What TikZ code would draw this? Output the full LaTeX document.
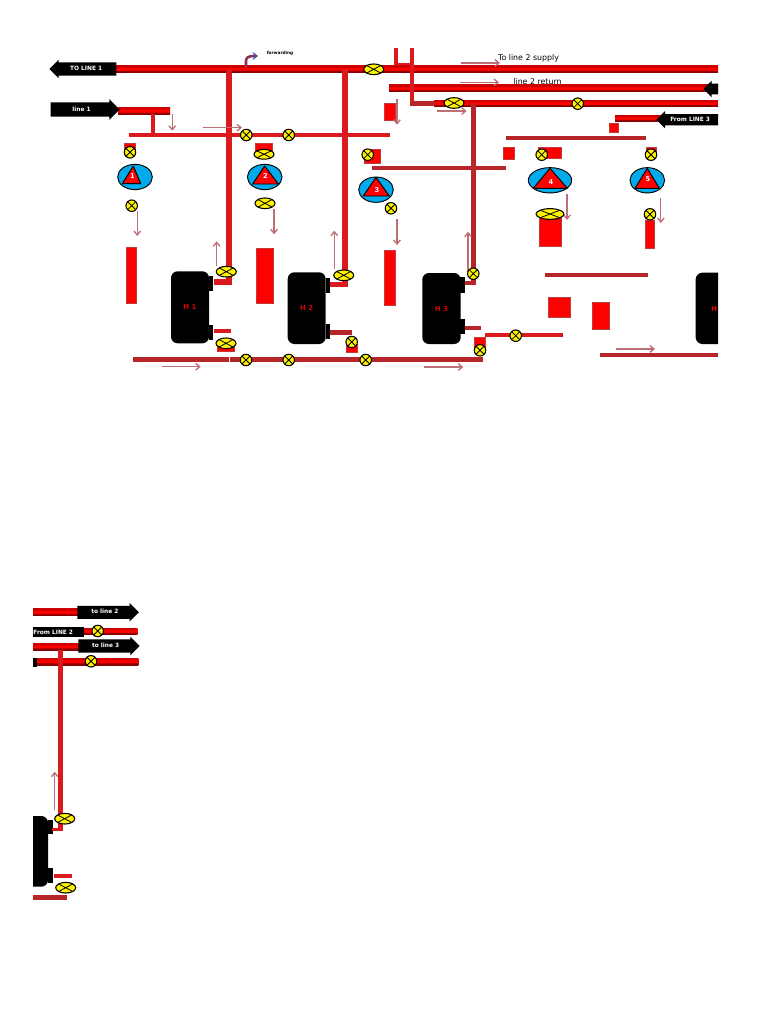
\documentclass[tikz,border=0pt]{standalone}
\usepackage{fontspec}
\setmainfont{DejaVu Sans}
\usepackage{xcolor}
\usetikzlibrary{arrows.meta, shapes.geometric, shapes.arrows}
\definecolor{pipered}{RGB}{218,26,28}
\definecolor{pipebrown}{RGB}{182,38,40}
\definecolor{flowpink}{RGB}{190,110,118}
\definecolor{pumpblue}{RGB}{0,170,235}
\definecolor{rectedge}{RGB}{190,60,60}
\pgfdeclareverticalshading{pipeshade}{100bp}{color(0bp)=(red!35!black); color(38bp)=(red!60!black); color(44bp)=(red); color(58bp)=(red); color(66bp)=(red!80!black); color(100bp)=(red!80!black)}
\tikzset{
  mainpipe/.style={shading=pipeshade,draw=none},
  thinpipe/.style={fill=pipered,draw=none},
  brownpipe/.style={fill=pipebrown,draw=none},
  redtank/.style={fill=red,draw=rectedge,line width=0.4pt},
  flowline/.style={flowpink,line width=1pt,-{Straight Barb[length=3pt,width=5pt]}},
  boiler/.style={fill=black,rounded corners=5pt},
  valve/.style={circle,draw=black,fill=yellow,line width=0.8pt,minimum size=8.6pt,inner sep=0pt,
    path picture={\draw[black,line width=0.6pt] (path picture bounding box.north west) -- (path picture bounding box.south east)
      (path picture bounding box.north east) -- (path picture bounding box.south west);}},
  widevalve/.style={valve,ellipse,minimum width=15pt,minimum height=8pt},
  pump/.style={ellipse,draw=black,fill=pumpblue,line width=0.7pt,inner sep=0pt},
  pumptri/.style={fill=red,draw=black,line width=0.7pt,line join=round},
  pumpnum/.style={text=white,font=\bfseries\fontsize{5}{6}\selectfont,inner sep=0pt},
  hxlabel/.style={text=red!85!black,font=\bfseries\fontsize{5.2}{6}\selectfont,inner sep=0pt},
  blackarrow/.style={single arrow,fill=black,text=white,font=\bfseries\fontsize{4.4}{5}\selectfont,
    text height=3.2pt,text depth=0.8pt,inner xsep=1pt,inner ysep=2.5pt,minimum width=14pt,
    single arrow head extend=2pt,anchor=tip},
  plainlabel/.style={text=black,font=\fontsize{5.9}{7}\selectfont,inner sep=0pt}
}
\begin{document}
\begin{tikzpicture}[x=0.75pt,y=-0.75pt]
\useasboundingbox (0,0) rectangle (768,1024);
\clip (33,40) rectangle (718,910);
\shade[mainpipe] (116,65.5) rectangle (718,72.5);
\shade[mainpipe] (389,85) rectangle (718,91.8);
\shade[mainpipe] (434,100) rectangle (718,106.5);
\shade[mainpipe] (118,107) rectangle (170,114.7);
\shade[mainpipe] (615,115) rectangle (662,121.7);
\fill[thinpipe] (151.3,114) rectangle (154.8,135);
\fill[thinpipe] (129.3,133.3) rectangle (390,137);
\fill[thinpipe] (225.8,69) rectangle (231.8,285);
\fill[thinpipe] (214,279) rectangle (231.8,285);
\fill[thinpipe] (342,69) rectangle (348,287.3);
\fill[thinpipe] (330,281.7) rectangle (348,287.3);
\fill[brownpipe] (471,103) rectangle (475.5,285);
\fill[brownpipe] (465,281) rectangle (475.5,285);
\fill[thinpipe] (394,48) rectangle (397.5,65.5);
\fill[thinpipe] (394,62.7) rectangle (412,65.5);
\fill[thinpipe] (410,48) rectangle (414.3,105.7);
\fill[brownpipe] (410,101) rectangle (435,105.7);
\fill[brownpipe] (505.7,136.2) rectangle (645.7,139.8);
\fill[brownpipe] (372.3,166.3) rectangle (506.3,170.3);
\fill[brownpipe] (545,272.7) rectangle (647.7,277.3);
\fill[brownpipe] (600.3,352.7) rectangle (718,356.7);
\fill[brownpipe] (133.3,357.3) rectangle (229,362.3);
\fill[brownpipe] (230,357.3) rectangle (483,362.3);
\fill[thinpipe] (214,329.3) rectangle (230.7,333);
\fill[brownpipe] (330,330.3) rectangle (352,335);
\fill[brownpipe] (465,326.3) rectangle (481.3,329.7);
\fill[thinpipe] (485.3,333.3) rectangle (563,337);
\draw[redtank] (124.3,143.3) rectangle (135,150);
\draw[redtank] (255.7,143.3) rectangle (272.3,151.7);
\draw[redtank] (364.3,149.3) rectangle (380,163.3);
\draw[redtank] (384.7,103.3) rectangle (395,120);
\draw[redtank] (503.7,147.7) rectangle (514.7,159.3);
\draw[redtank] (538,147.3) rectangle (561,158);
\draw[redtank] (646,147) rectangle (656,152);
\draw[redtank] (609,123) rectangle (618,132);
\draw[redtank] (126.3,247.3) rectangle (136.7,303.3);
\draw[redtank] (256.7,248.3) rectangle (273.3,303.3);
\draw[redtank] (384.7,250.7) rectangle (395.3,305.3);
\draw[redtank] (539.3,217) rectangle (561.7,246.7);
\draw[redtank] (645,220) rectangle (654.7,248);
\draw[redtank] (548,297.7) rectangle (570,317.7);
\draw[redtank] (592.7,302.7) rectangle (609.3,329.3);
\draw[redtank] (217.3,343) rectangle (234,351);
\draw[redtank] (346.3,344) rectangle (357,352);
\draw[redtank] (474.7,337.3) rectangle (485.3,348);
\fill[black] (209,276) rectangle (213.3,291.3);
\fill[black] (209,325) rectangle (213.3,340);
\fill[boiler] (171,271.3) rectangle (209,343.3);
\fill[black] (325.7,277.7) rectangle (330,293.3);
\fill[black] (325.7,324) rectangle (330,339);
\fill[boiler] (287.7,272.3) rectangle (325.7,344);
\fill[black] (460,276.7) rectangle (465,292.7);
\fill[black] (460,319) rectangle (465,334);
\fill[boiler] (422.3,273) rectangle (460.7,344);
\fill[boiler] (695.7,272.7) rectangle (740,344);
\fill[black] (48,820) rectangle (53.3,834);
\fill[black] (48,868) rectangle (53.3,883);
\fill[boiler] (10,816) rectangle (48,886.7);
\node[hxlabel] (hxone) at (190,306.7) {H 1};
\node[hxlabel] (hxtwo) at (306.7,307.5) {H 2};
\node[hxlabel] (hxthree) at (441.5,308.5) {H 3};
\node[hxlabel] (hxfour) at (718,308.5) {H 4};
\node[hxlabel] (hxfive) at (27,851) {H 1};
\node[pump,minimum width=26pt,minimum height=19pt] (pumpone) at (135,177) {};
\draw[pumptri] (133.3,166) -- (122.3,183.7) -- (140.7,183.7) -- cycle;
\node[pumpnum] (numone) at (132.5,176.5) {1};
\node[pump,minimum width=26pt,minimum height=19pt] (pumptwo) at (264.7,177) {};
\draw[pumptri] (264.7,166) -- (252.7,184) -- (278.3,184) -- cycle;
\node[pumpnum] (numtwo) at (265.5,176) {2};
\node[pump,minimum width=26pt,minimum height=19pt] (pumpthree) at (376,189.7) {};
\draw[pumptri] (376,177.3) -- (363.3,196) -- (389.3,196) -- cycle;
\node[pumpnum] (numthree) at (377,190) {3};
\node[pump,minimum width=32.5pt,minimum height=19pt] (pumpfour) at (550,180.3) {};
\draw[pumptri] (550,168.3) -- (533.3,188.3) -- (567.3,188.3) -- cycle;
\node[pumpnum] (numfour) at (551,182) {4};
\node[pump,minimum width=26pt,minimum height=19pt] (pumpfive) at (647.3,180.3) {};
\draw[pumptri] (647.3,168.3) -- (635,188.3) -- (659.3,188.3) -- cycle;
\node[pumpnum] (numfive) at (648,179) {5};
\node[blackarrow,minimum height=50.25pt,shape border rotate=180] (tolineone) at (49,69) {TO LINE 1};
\node[blackarrow,minimum height=51.75pt,minimum width=15.5pt,inner ysep=2.2pt] (lineone) at (120,109.5) {line 1};
\node[blackarrow,minimum height=60pt,minimum width=12.5pt,inner ysep=1.6pt,shape border rotate=180] (returnarrow) at (703,89) {};
\node[blackarrow,minimum height=46.5pt,minimum width=13pt,inner ysep=1.4pt,shape border rotate=180] (fromlinethree) at (656,119.7) {From LINE 3};
\draw[flowline] (172.3,114) -- (172.3,130.7);
\draw[flowline] (203,127.7) -- (242,127.7);
\draw[flowline] (397,99.3) -- (397,124.7);
\draw[flowline] (461,63) -- (500,63);
\draw[flowline] (460,82.3) -- (499,82.3);
\draw[flowline] (436.7,111) -- (466.7,111);
\draw[flowline] (137.3,211) -- (137.3,236);
\draw[flowline] (274,209) -- (274,234.3);
\draw[flowline] (397,219.3) -- (397,245);
\draw[flowline] (567,194.3) -- (567,220);
\draw[flowline] (660.8,198) -- (660.8,223);
\draw[flowline] (216.7,265.7) -- (216.7,241.3);
\draw[flowline] (334.3,269) -- (334.3,230.7);
\draw[flowline] (468,271.7) -- (468,231.7);
\draw[flowline] (161.7,366.7) -- (200.7,366.7);
\draw[flowline] (424.3,367) -- (463.3,367);
\draw[flowline] (616,349) -- (655,349);
\draw[flowline] (54.7,810) -- (54.7,771.7);
\draw[line width=1.9pt,draw={rgb,255:red,140;green,45;blue,85},-{Stealth[length=4pt,width=6pt,color=blue!40!gray]}] (246,68) -- (246,61) .. controls (246,57) and (249,56) .. (258,56);
\node[plainlabel,font=\bfseries\fontsize{3.2}{4}\selectfont] (forwarding) at (280,53.5) {forwarding};
\node[plainlabel] (supplylabel) at (528.5,58) {To line 2 supply};
\node[plainlabel] (returnlabel) at (537.5,82) {line 2 return};
\node[widevalve] (vmain) at (373.7,69.3) {};
\node[widevalve] (vreturn) at (454,103) {};
\node[valve] (vthree) at (577.7,103.7) {};
\node[valve] (vheadone) at (246.3,135) {};
\node[valve] (vheadtwo) at (288.7,135) {};
\node[valve] (vpumpone) at (130,152.3) {};
\node[widevalve,minimum height=7.4pt] (vpumptwo) at (264,154.3) {};
\node[valve] (vpumpthree) at (367.7,154.7) {};
\node[valve] (vpumpfour) at (541.7,154.7) {};
\node[valve] (vpumpfive) at (651,154.7) {};
\node[valve] (voutone) at (131.7,205.7) {};
\node[widevalve] (vouttwo) at (265,203.3) {};
\node[valve] (voutthree) at (391,208.3) {};
\node[widevalve,minimum width=21pt] (voutfour) at (550,214) {};
\node[valve] (voutfive) at (650,214.3) {};
\node[widevalve] (vhxone) at (226.3,271.7) {};
\node[widevalve] (vhxtwo) at (343.7,275.3) {};
\node[valve] (vhxthree) at (473.3,273.7) {};
\node[widevalve] (vlowone) at (226,343.3) {};
\node[valve] (vlowtwo) at (351.7,342) {};
\node[valve] (vlowthree) at (480,350.3) {};
\node[valve] (vbranch) at (515.7,335.7) {};
\node[valve] (vbottomone) at (246,360) {};
\node[valve] (vbottomtwo) at (288.7,360) {};
\node[valve] (vbottomthree) at (365.7,360) {};
\shade[mainpipe] (33,608.7) rectangle (78,615.7);
\shade[mainpipe] (84,628) rectangle (137.3,634.3);
\shade[mainpipe] (33,643.3) rectangle (79,650);
\shade[mainpipe] (33,658) rectangle (138.3,665);
\fill[black] (33,657.7) rectangle (37.3,667.3);
\fill[thinpipe] (58.3,650) rectangle (62.7,831.3);
\fill[thinpipe] (52.3,828.3) rectangle (62.7,831.3);
\fill[thinpipe] (54,874) rectangle (71.7,878);
\fill[brownpipe] (33,895.3) rectangle (67.3,900);
\node[blackarrow,minimum height=46.2pt] (tolinetwo) at (139.3,612.3) {to line 2};
\node[blackarrow,minimum height=46pt] (tolinefour) at (140,646) {to line 3};
\node[fill=black,text=white,font=\bfseries\fontsize{4.4}{5}\selectfont,anchor=east,minimum height=7pt,inner ysep=1.5pt,inner xsep=8pt] (fromlinetwo) at (84,632) {From LINE 2};
\node[valve] (vlinetwo) at (97.7,631) {};
\node[valve] (vlinefour) at (91,661.3) {};
\node[widevalve] (vhxfive) at (64.7,818.7) {};
\node[widevalve] (vlowfive) at (65.7,887.7) {};
\end{tikzpicture}
\end{document}
